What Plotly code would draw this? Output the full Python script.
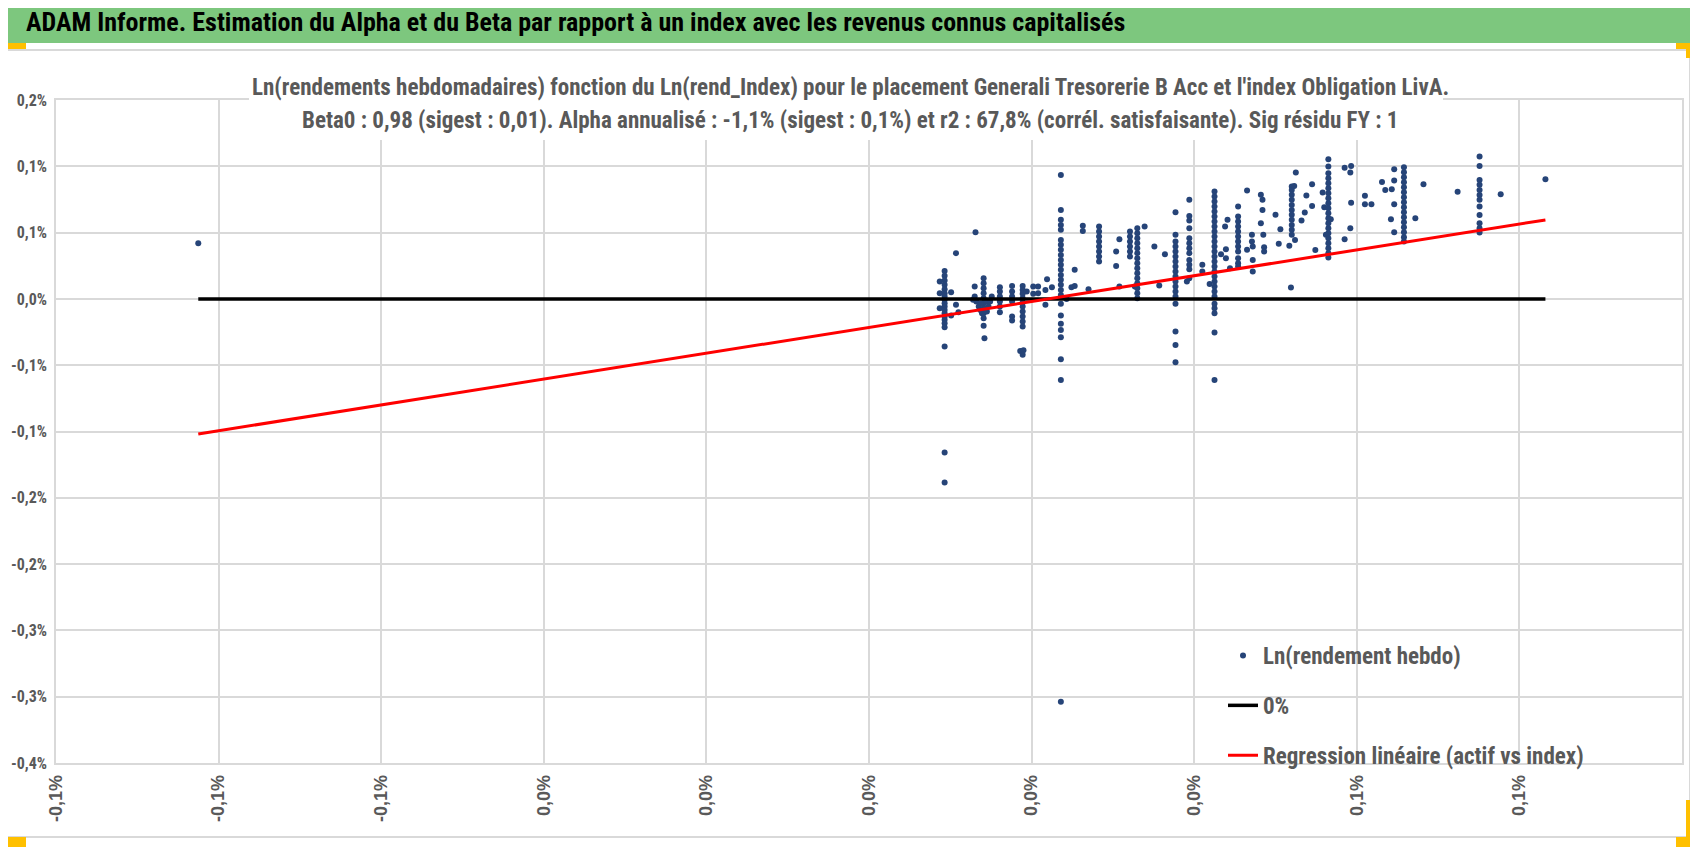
import plotly.graph_objects as go

# la page garde la marge par défaut du navigateur (8 px) : figure un peu plus petite
OFF = 8
W, H = 1698 - 2 * OFF, 855 - 2 * OFF

# ---------------------------------------------------------------
# Données : Ln(rend_Index) en x, Ln(rendement hebdo) en y, en %
# ---------------------------------------------------------------
outlier_left = [(-0.0825, 0.0420)]

cluster_1 = [
    (0.0093, 0.0211), (0.0093, 0.0174), (0.0093, 0.0139), (0.0093, 0.0106), (0.0093, 0.0073),
    (0.0093, 0.0043), (0.0093, 0.0018), (0.0093, -0.0007), (0.0093, -0.0032), (0.0093, -0.0058),
    (0.0093, -0.0083), (0.0093, -0.0108), (0.0093, -0.0133), (0.0093, -0.0158), (0.0093, -0.0183),
    (0.0093, -0.0213), (0.0093, -0.0359), (0.0093, -0.1159), (0.0093, -0.1385),
    (0.0087, 0.0131), (0.0087, 0.0043), (0.0087, -0.0070), (0.0101, 0.0051), (0.0101, -0.0125),
    (0.0107, 0.0345), (0.0107, -0.0045), (0.0110, -0.0100),
]

cluster_2 = [
    (0.0131, 0.0503), (0.0130, 0.0093), (0.0130, 0.0018), (0.0132, -0.0020), (0.0135, -0.0058),
    (0.0137, -0.0083), (0.0139, -0.0108), (0.0141, 0.0156), (0.0141, 0.0118), (0.0141, 0.0081),
    (0.0141, 0.0043), (0.0141, 0.0005), (0.0141, -0.0032), (0.0141, -0.0070), (0.0141, -0.0108),
    (0.0141, -0.0146), (0.0141, -0.0203), (0.0143, -0.0070), (0.0145, -0.0020), (0.0145, -0.0095),
    (0.0147, -0.0058), (0.0149, -0.0020), (0.0151, 0.0018), (0.0128, -0.0007), (0.0137, -0.0032),
    (0.0142, -0.0296),
]

cluster_3 = [
    (0.0161, 0.0088), (0.0161, 0.0056), (0.0161, 0.0018), (0.0161, -0.0020), (0.0161, -0.0058),
    (0.0161, -0.0100), (0.0176, 0.0098), (0.0176, 0.0056), (0.0176, 0.0018), (0.0176, -0.0020),
    (0.0176, -0.0133), (0.0176, -0.0163), (0.0189, 0.0098), (0.0189, 0.0068), (0.0189, 0.0038),
    (0.0189, 0.0005), (0.0189, -0.0027), (0.0189, -0.0058), (0.0189, -0.0095), (0.0189, -0.0133),
    (0.0189, -0.0171), (0.0189, -0.0208), (0.0186, -0.0392), (0.0190, -0.0387), (0.0189, -0.0422),
    (0.0194, 0.0056), (0.0202, 0.0093), (0.0202, 0.0038), (0.0208, 0.0093), (0.0208, 0.0043),
    (0.0217, 0.0068), (0.0217, -0.0045), (0.0219, 0.0149), (0.0225, 0.0088),
]

cluster_4 = [
    (0.0236, 0.0935), (0.0236, 0.0671), (0.0236, 0.0596), (0.0236, 0.0558), (0.0236, 0.0521),
    (0.0236, 0.0445), (0.0236, 0.0408), (0.0236, 0.0370), (0.0236, 0.0332), (0.0236, 0.0294),
    (0.0236, 0.0257), (0.0236, 0.0219), (0.0236, 0.0181), (0.0236, 0.0144), (0.0236, 0.0106),
    (0.0236, 0.0068), (0.0236, 0.0030), (0.0236, -0.0037), (0.0236, -0.0125), (0.0236, -0.0188),
    (0.0236, -0.0234), (0.0236, -0.0289), (0.0236, -0.0455), (0.0236, -0.0611), (0.0236, -0.3038),
    (0.0243, 0.0000), (0.0249, 0.0088), (0.0253, 0.0098), (0.0253, 0.0219), (0.0263, 0.0551),
    (0.0263, 0.0513), (0.0270, 0.0073),
]

cluster_5 = [
    (0.0283, 0.0546), (0.0283, 0.0508), (0.0283, 0.0470), (0.0283, 0.0433), (0.0283, 0.0395),
    (0.0283, 0.0357), (0.0283, 0.0320), (0.0283, 0.0282), (0.0304, 0.0357), (0.0304, 0.0249),
    (0.0308, 0.0450), (0.0308, 0.0093),
]

cluster_6 = [
    (0.0321, 0.0508), (0.0321, 0.0470), (0.0321, 0.0433), (0.0321, 0.0395), (0.0321, 0.0357),
    (0.0321, 0.0320), (0.0330, 0.0533), (0.0330, 0.0495), (0.0330, 0.0458), (0.0330, 0.0420),
    (0.0330, 0.0382), (0.0330, 0.0345), (0.0330, 0.0307), (0.0330, 0.0269), (0.0330, 0.0231),
    (0.0330, 0.0194), (0.0330, 0.0156), (0.0330, 0.0118), (0.0330, 0.0081), (0.0330, 0.0043),
    (0.0330, 0.0005), (0.0327, 0.0093), (0.0339, 0.0546), (0.0351, 0.0395), (0.0357, 0.0101),
    (0.0364, 0.0337),
]

cluster_7 = [
    (0.0377, 0.0654), (0.0377, 0.0483), (0.0377, 0.0433), (0.0377, 0.0395), (0.0377, 0.0357),
    (0.0377, 0.0320), (0.0377, 0.0282), (0.0377, 0.0244), (0.0377, 0.0206), (0.0377, 0.0169),
    (0.0377, 0.0131), (0.0377, 0.0093), (0.0377, 0.0056), (0.0377, 0.0018), (0.0377, -0.0037),
    (0.0377, -0.0246), (0.0377, -0.0347), (0.0377, -0.0477),
    (0.0394, 0.0747), (0.0394, 0.0626), (0.0394, 0.0591), (0.0394, 0.0533), (0.0394, 0.0458),
    (0.0394, 0.0420), (0.0394, 0.0382), (0.0394, 0.0345), (0.0394, 0.0294), (0.0394, 0.0257),
    (0.0394, 0.0224), (0.0394, 0.0156), (0.0391, 0.0131), (0.0410, 0.0257), (0.0410, 0.0206),
    (0.0419, 0.0113),
]

cluster_8 = [
    (0.0425, 0.0810), (0.0425, 0.0772), (0.0425, 0.0734), (0.0425, 0.0697), (0.0425, 0.0659),
    (0.0425, 0.0621), (0.0425, 0.0583), (0.0425, 0.0546), (0.0425, 0.0508), (0.0425, 0.0470),
    (0.0425, 0.0433), (0.0425, 0.0395), (0.0425, 0.0357), (0.0425, 0.0320), (0.0425, 0.0282),
    (0.0425, 0.0244), (0.0425, 0.0206), (0.0425, 0.0169), (0.0425, 0.0131), (0.0425, 0.0093),
    (0.0425, 0.0056), (0.0425, 0.0018), (0.0425, -0.0037), (0.0425, -0.0070), (0.0425, -0.0108),
    (0.0425, -0.0254), (0.0425, -0.0611),
    (0.0433, 0.0337), (0.0438, 0.0546), (0.0439, 0.0375), (0.0441, 0.0596), (0.0439, 0.0307),
    (0.0444, 0.0231),
]

cluster_9 = [
    (0.0454, 0.0697), (0.0454, 0.0621), (0.0454, 0.0583), (0.0454, 0.0546), (0.0454, 0.0508),
    (0.0454, 0.0470), (0.0454, 0.0433), (0.0454, 0.0395), (0.0454, 0.0357), (0.0454, 0.0307),
    (0.0454, 0.0269), (0.0454, 0.0244),
    (0.0465, 0.0817), (0.0465, 0.0370), (0.0471, 0.0483), (0.0471, 0.0433), (0.0472, 0.0395),
    (0.0472, 0.0294), (0.0472, 0.0206), (0.0482, 0.0785), (0.0482, 0.0571), (0.0484, 0.0747),
    (0.0484, 0.0671), (0.0485, 0.0483), (0.0486, 0.0390), (0.0486, 0.0357), (0.0500, 0.0634),
    (0.0506, 0.0526), (0.0504, 0.0415), (0.0517, 0.0400), (0.0519, 0.0086),
]

cluster_10 = [
    (0.0520, 0.0848), (0.0520, 0.0822), (0.0520, 0.0785), (0.0520, 0.0747), (0.0520, 0.0709),
    (0.0520, 0.0671), (0.0520, 0.0634), (0.0520, 0.0596), (0.0520, 0.0558), (0.0520, 0.0521),
    (0.0520, 0.0483), (0.0525, 0.0953), (0.0524, 0.0445), (0.0523, 0.0852),
    (0.0532, 0.0591), (0.0536, 0.0651), (0.0538, 0.0779), (0.0545, 0.0865), (0.0545, 0.0701),
    (0.0549, 0.0369), (0.0558, 0.0802), (0.0560, 0.0691),
]

cluster_11 = [
    (0.0565, 0.1053), (0.0565, 0.0998), (0.0565, 0.0948), (0.0565, 0.0910), (0.0565, 0.0872),
    (0.0565, 0.0835), (0.0565, 0.0797), (0.0565, 0.0759), (0.0565, 0.0721), (0.0565, 0.0684),
    (0.0565, 0.0646), (0.0565, 0.0608), (0.0565, 0.0571), (0.0565, 0.0533), (0.0565, 0.0495),
    (0.0565, 0.0457), (0.0565, 0.0420), (0.0565, 0.0382), (0.0565, 0.0344), (0.0565, 0.0312),
    (0.0568, 0.0601), (0.0562, 0.0483),
    (0.0585, 0.0990), (0.0585, 0.0450), (0.0592, 0.0953), (0.0593, 0.1003), (0.0593, 0.0726),
    (0.0592, 0.0533), (0.0610, 0.0777), (0.0610, 0.0714), (0.0618, 0.0714), (0.0631, 0.0882),
    (0.0635, 0.0822), (0.0643, 0.0827), (0.0646, 0.0978), (0.0646, 0.0892), (0.0646, 0.0714),
    (0.0642, 0.0601), (0.0646, 0.0503),
]

cluster_12 = [
    (0.0658, 0.0993), (0.0658, 0.0955), (0.0658, 0.0918), (0.0658, 0.0880), (0.0658, 0.0842),
    (0.0658, 0.0804), (0.0658, 0.0767), (0.0658, 0.0729), (0.0658, 0.0691), (0.0658, 0.0654),
    (0.0658, 0.0616), (0.0658, 0.0578), (0.0658, 0.0540), (0.0658, 0.0503), (0.0658, 0.0465),
    (0.0658, 0.0432),
    (0.0672, 0.0608), (0.0682, 0.0865), (0.0724, 0.0809),
    (0.0751, 0.1073), (0.0751, 0.1003), (0.0751, 0.0897), (0.0751, 0.0860), (0.0751, 0.0822),
    (0.0751, 0.0784), (0.0751, 0.0747), (0.0751, 0.0696), (0.0751, 0.0633), (0.0751, 0.0571),
    (0.0751, 0.0533), (0.0751, 0.0500),
    (0.0777, 0.0789), (0.0832, 0.0903),
]

clusters = [outlier_left, cluster_1, cluster_2, cluster_3, cluster_4, cluster_5, cluster_6,
            cluster_7, cluster_8, cluster_9, cluster_10, cluster_11, cluster_12]
idx_ret = [p[0] for c in clusters for p in c]
fund_ret = [p[1] for c in clusters for p in c]

# régression : beta et alpha hebdo en %
beta = 0.974
alpha_wk = -0.0215

# graduations (Excel arrondit à 1 décimale)
x_tick_vals = [-0.10, -0.08, -0.06, -0.04, -0.02, 0.0, 0.02, 0.04, 0.06, 0.08, 0.10]
x_tick_text = ["-0,1%", "-0,1%", "-0,1%", "0,0%", "0,0%", "0,0%", "0,0%", "0,0%", "0,1%", "0,1%", "0,1%"]
y_tick_vals = [-0.35, -0.30, -0.25, -0.20, -0.15, -0.10, -0.05, 0.0, 0.05, 0.10, 0.15]
y_tick_text = ["-0,4%", "-0,3%", "-0,3%", "-0,2%", "-0,2%", "-0,1%", "-0,1%", "0,0%", "0,1%", "0,1%", "0,2%"]

header = "ADAM Informe. Estimation du Alpha et du Beta par rapport à un index avec les revenus connus capitalisés"
title_1 = "Ln(rendements hebdomadaires) fonction du Ln(rend_Index) pour le placement Generali Tresorerie B Acc et l'index Obligation LivA."
title_2 = "Beta0 : 0,98 (sigest : 0,01). Alpha annualisé : -1,1% (sigest : 0,1%) et r2 : 67,8% (corrél. satisfaisante). Sig résidu FY : 1"

NARROW = "Roboto Condensed, Liberation Sans Narrow, Liberation Sans, sans-serif"
GREY = "#595959"


# positions données en pixels de l'image d'origine
def px_x(p):
    return (p - OFF) / W


def px_y(p):
    return 1 - (p - OFF) / H


x_lo, x_hi = min(idx_ret), max(idx_ret)

fig = go.Figure()
fig.add_trace(go.Scatter(x=idx_ret, y=fund_ret, mode="markers", name="Ln(rendement hebdo)",
                         marker=dict(size=6, color="#264478"), legendgroup="a"))
fig.add_trace(go.Scatter(x=[x_lo, x_hi], y=[0, 0], mode="lines", name="0%",
                         line=dict(color="black", width=3.5), legendgroup="b"))
fig.add_trace(go.Scatter(x=[x_lo, x_hi], y=[alpha_wk + beta * x_lo, alpha_wk + beta * x_hi],
                         mode="lines", name="Regression linéaire (actif vs index)",
                         line=dict(color="#FF0000", width=3), legendgroup="c"))

shapes = [
    # bandeau vert
    dict(type="rect", xref="paper", yref="paper", x0=0, x1=1, y0=px_y(43), y1=1,
         fillcolor="#7DC77E", line=dict(width=0)),
    # cadre du graphique
    dict(type="line", xref="paper", yref="paper", x0=0, x1=px_x(1690), y0=px_y(50), y1=px_y(50),
         line=dict(color="#D9D9D9", width=2)),
    dict(type="line", xref="paper", yref="paper", x0=px_x(1690), x1=px_x(1690), y0=px_y(50), y1=px_y(837),
         line=dict(color="#D9D9D9", width=2)),
    dict(type="line", xref="paper", yref="paper", x0=0, x1=px_x(1690), y0=px_y(837), y1=px_y(837),
         line=dict(color="#D9D9D9", width=2)),
    # fond blanc du titre
    dict(type="rect", xref="paper", yref="paper", x0=px_x(249), x1=px_x(1443), y0=px_y(140), y1=px_y(62),
         fillcolor="white", line=dict(width=0), layer="above"),
]
# poignées de sélection orange
for x0, x1, y0, y1 in [(8, 26, 43, 49), (1676, 1690, 43, 49), (1686, 1690, 43, 58),
                       (8, 26, 837, 847), (1676, 1690, 837, 847), (1686, 1690, 800, 847)]:
    shapes.append(dict(type="rect", xref="paper", yref="paper", x0=px_x(x0), x1=px_x(x1),
                       y0=px_y(y1), y1=px_y(y0), fillcolor="#FFC000", line=dict(width=0)))

annotations = [
    dict(text=header, xref="paper", yref="paper", x=px_x(24), y=px_y(22), xanchor="left",
         yanchor="middle", showarrow=False, font=dict(family=NARROW, size=26, color="black", weight="bold")),
    dict(text=title_1, xref="paper", yref="paper", x=px_x(850), y=px_y(87), xanchor="center",
         yanchor="middle", showarrow=False, font=dict(family=NARROW, size=23, color=GREY, weight="bold")),
    dict(text=title_2, xref="paper", yref="paper", x=px_x(850), y=px_y(120), xanchor="center",
         yanchor="middle", showarrow=False, font=dict(family=NARROW, size=23, color=GREY, weight="bold")),
]

fig.update_layout(
    width=W, height=H,
    margin=dict(l=0, r=0, t=0, b=0),
    paper_bgcolor="white", plot_bgcolor="white",
    showlegend=True,
    legend=dict(x=px_x(1223), y=px_y(634), xanchor="left", yanchor="top",
                bgcolor="rgba(0,0,0,0)", tracegroupgap=17, traceorder="grouped",
                font=dict(family=NARROW, size=23, color=GREY, weight="bold")),
    xaxis=dict(domain=[px_x(56), px_x(1682)], range=[-0.1, 0.1], automargin=False,
               tickmode="array", tickvals=x_tick_vals, ticktext=x_tick_text, tickangle=-90,
               showgrid=True, gridcolor="#D9D9D9", gridwidth=1.5, zeroline=False,
               showline=True, linecolor="#D9D9D9", linewidth=1.5, mirror=True,
               ticks="", ticklabelstandoff=3,
               tickfont=dict(family="Liberation Sans, Arial, sans-serif", size=18, color=GREY, weight="bold")),
    yaxis=dict(domain=[px_y(763), px_y(100)], range=[-0.35, 0.15], automargin=False,
               tickmode="array", tickvals=y_tick_vals, ticktext=y_tick_text,
               showgrid=True, gridcolor="#D9D9D9", gridwidth=1.5, zeroline=False,
               showline=True, linecolor="#D9D9D9", linewidth=1.5, mirror=True,
               ticks="", ticklabelstandoff=4,
               tickfont=dict(family=NARROW, size=16, color=GREY, weight="bold")),
    shapes=shapes,
    annotations=annotations,
)

fig.write_html("out.html")
